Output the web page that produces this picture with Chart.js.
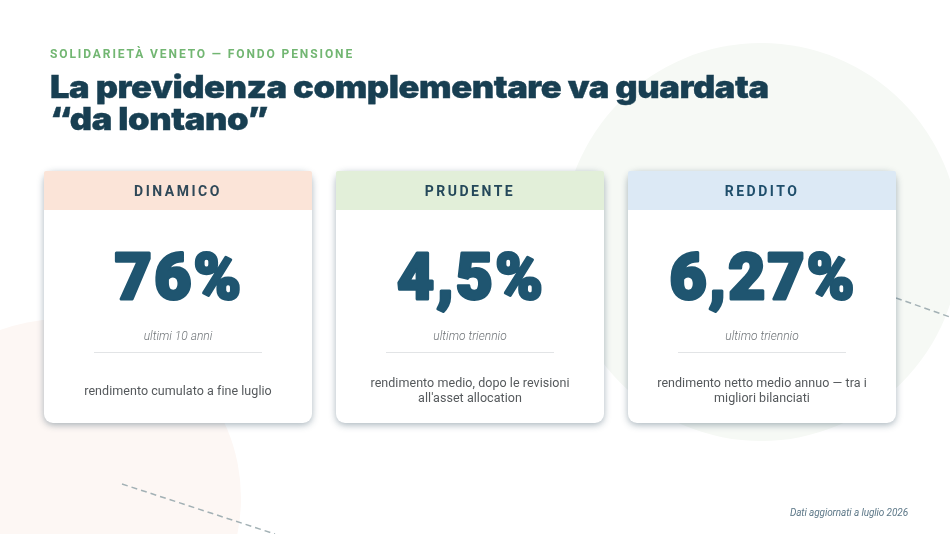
<!DOCTYPE html>
<html lang="it">
<head>
<meta charset="utf-8">
<title>Solidarietà Veneto</title>
<script src="https://cdn.jsdelivr.net/npm/chart.js@4/dist/chart.umd.min.js"></script>
<style>
  html, body { margin: 0; background: #fff; }
  #page { position: relative; width: 950px; height: 534px; overflow: hidden; font-family: Roboto, sans-serif; }
  #page svg, #page canvas { position: absolute; left: 0; top: 0; }
  .eyebrow { position: absolute; left: 50px; top: 47px; font-size: 12px; line-height: 14px; font-weight: 700; letter-spacing: 1.9px; color: #72b672; white-space: nowrap; }
  h1 { position: absolute; left: 50px; top: 71px; margin: 0; font-family: Inter, sans-serif; font-size: 31px; line-height: 32px; font-weight: 900; letter-spacing: -0.4px; color: #183f52; white-space: nowrap; transform: scaleX(1.115); transform-origin: left top; -webkit-text-stroke: 0.4px #183f52; }
  .note { position: absolute; right: 42px; top: 506px; font-size: 10px; line-height: 13px; font-style: italic; letter-spacing: -0.1px; color: #5d7888; white-space: nowrap; }
</style>
</head>
<body>
<div id="page">
  <svg width="950" height="534">
    <circle cx="761" cy="242" r="199" fill="#f6f9f5"/>
    <circle cx="62" cy="498" r="179" fill="#fdf7f4"/>
    <line x1="122" y1="484" x2="275" y2="534" stroke="#a3b1b5" stroke-width="1.5" stroke-dasharray="6 4"/>
    <line x1="896" y1="298" x2="950" y2="317" stroke="#a3b1b5" stroke-width="1.5" stroke-dasharray="6 4"/>
  </svg>
  <canvas id="chart" width="950" height="534"></canvas>
  <div class="eyebrow">SOLIDARIETÀ VENETO — FONDO PENSIONE</div>
  <h1>La previdenza complementare va guardata<br>“da lontano”</h1>
  <div class="note">Dati aggiornati a luglio 2026</div>
</div>
<script>
const categorie = ['DINAMICO', 'PRUDENTE', 'REDDITO'];
const rendimenti = [76, 4.5, 6.27];
const periodi = ['ultimi 10 anni', 'ultimo triennio', 'ultimo triennio'];
const descrizioni = [
  ['rendimento cumulato a fine luglio'],
  ['rendimento medio, dopo le revisioni', "all'asset allocation"],
  ['rendimento netto medio annuo — tra i', 'migliori bilanciati'],
];
const coloriTestata = ['#fbe4d8', '#e2efd9', '#dce9f5'];
const coloriCategoria = ['#2f4858', '#24485a', '#1f4e6b'];

// altezza della card in pixel: la scala y coincide con lo schermo
const ALTEZZA = 252;
const TESTATA = 39;

function testo(ctx, str, x, y, font, color, spacing, spessore) {
  ctx.font = font;
  ctx.fillStyle = color;
  ctx.letterSpacing = (spacing || 0) + 'px';
  ctx.textAlign = 'center';
  ctx.textBaseline = 'alphabetic';
  if (spessore) {
    // Roboto Black non basta: ingrosso le cifre con un contorno
    ctx.strokeStyle = color;
    ctx.lineWidth = spessore;
    ctx.lineJoin = 'round';
    ctx.strokeText(str, x, y);
  }
  ctx.fillText(str, x, y);
}

const ombra = {
  id: 'ombra',
  beforeDatasetDraw(chart, args) {
    if (args.index !== 0) return;
    const ctx = chart.ctx;
    ctx.save();
    ctx.shadowColor = 'rgba(40, 70, 90, 0.4)';
    ctx.shadowBlur = 7;
    ctx.shadowOffsetY = 2;
  },
  afterDatasetDraw(chart, args) {
    if (args.index === 0) chart.ctx.restore();
  },
};

const testiCard = {
  id: 'testiCard',
  afterDatasetsDraw(chart) {
    const ctx = chart.ctx;
    const { x: sx, y: sy } = chart.scales;
    const top = sy.getPixelForValue(ALTEZZA);
    categorie.forEach((nome, i) => {
      const cx = sx.getPixelForValue(i);
      ctx.save();
      testo(ctx, nome, cx, top + 24.5, '700 14px Roboto', coloriCategoria[i], 2.5);
      const valore = rendimenti[i].toLocaleString('it-IT') + '%';
      testo(ctx, valore, cx + 1, top + 128, '900 64px Roboto', '#1f5570', 2.2, 3);
      testo(ctx, periodi[i], cx, top + 169, 'italic 300 12px Roboto', '#6f7478', 0);
      ctx.strokeStyle = '#e2e4e6';
      ctx.lineWidth = 1;
      ctx.beginPath();
      ctx.moveTo(cx - 84, top + 181.5);
      ctx.lineTo(cx + 84, top + 181.5);
      ctx.stroke();
      const righe = descrizioni[i];
      const y0 = righe.length > 1 ? top + 216 : top + 223.5;
      righe.forEach((riga, r) => {
        testo(ctx, riga, cx, y0 + r * 15, '400 12.5px Roboto', '#55595c', 0.05);
      });
      ctx.restore();
    });
  },
};

new Chart(document.getElementById('chart'), {
  type: 'bar',
  data: {
    labels: categorie,
    datasets: [
      {
        label: 'card',
        data: rendimenti.map(() => [0, ALTEZZA]),
        backgroundColor: '#ffffff',
        borderRadius: 9,
        borderSkipped: false,
        clip: 30,
        order: 2,
      },
      {
        label: 'testata',
        data: rendimenti.map(() => [ALTEZZA - TESTATA, ALTEZZA]),
        backgroundColor: coloriTestata,
        borderRadius: { topLeft: 2, topRight: 2, bottomLeft: 0, bottomRight: 0 },
        borderSkipped: false,
        order: 1,
      },
    ],
  },
  options: {
    responsive: false,
    animation: false,
    events: [],
    layout: { padding: { left: 32, right: 42, top: 171, bottom: 111 } },
    datasets: { bar: { categoryPercentage: 1, barPercentage: 268 / 292 } },
    scales: {
      x: { display: false, stacked: true },
      y: { display: false, min: 0, max: ALTEZZA },
    },
    plugins: { legend: { display: false }, tooltip: { enabled: false }, title: { display: false } },
  },
  plugins: [ombra, testiCard],
});
</script>
</body>
</html>
